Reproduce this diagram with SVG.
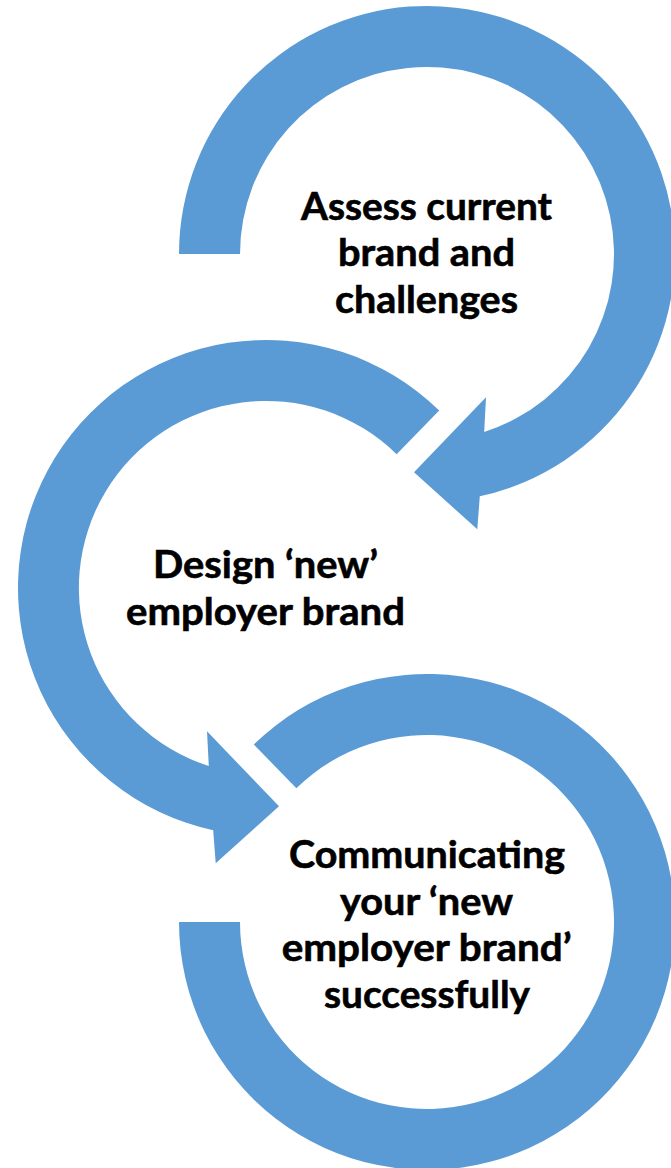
<svg xmlns="http://www.w3.org/2000/svg" width="671" height="1168" viewBox="0 0 671 1168">
  <style>
    .ring { fill: #5B9BD5; stroke: none; }
    .label { font-family: Lato, "Open Sans", "Liberation Sans", sans-serif; font-weight: 700; font-size: 38.5px; fill: #000000; stroke: #000000; stroke-width: 0.6px; text-anchor: middle; }
  </style>
  <rect x="0" y="0" width="671" height="1168" fill="#ffffff"/>

  <!-- circular arrow segments: each ring carries the flow to the next step -->
  <g id="connectors">
    <!-- step 1 ring: starts at left, runs clockwise, head points into step 2 -->
    <path id="arrow-1" class="ring" d="M179,254 A248,248 0 1 1 479.8,496.3 L477.3,529.3 L414,472.3 L486,397.3 L484.2,432 A187,187 0 1 0 240,254 Z"/>
    <!-- step 2 ring: starts upper right, runs counter-clockwise, head points into step 3 -->
    <path id="arrow-2" class="ring" d="M439.2,410.5 A248,248 0 1 0 213.2,830.3 L215.7,863.3 L279,806.3 L207,731.3 L208.8,766 A187,187 0 1 1 396.6,454.2 Z"/>
    <!-- step 3 ring: starts upper left, runs clockwise, ends flat at left -->
    <path id="arrow-3" class="ring" d="M253.8,744.5 A248,248 0 1 1 179,922 L240,922 A187,187 0 1 0 296.4,788.2 Z"/>
  </g>

  <g id="step-assess">
    <text class="label" x="426.5" y="219.5" textLength="251" lengthAdjust="spacingAndGlyphs">Assess current</text>
    <text class="label" x="426.5" y="266" textLength="177" lengthAdjust="spacingAndGlyphs">brand and</text>
    <text class="label" x="426.5" y="312.5" textLength="183" lengthAdjust="spacingAndGlyphs">challenges</text>
  </g>

  <g id="step-design">
    <text class="label" x="265.5" y="578" textLength="225" lengthAdjust="spacingAndGlyphs">Design ‘new’</text>
    <text class="label" x="265.5" y="624.8" textLength="279" lengthAdjust="spacingAndGlyphs">employer brand</text>
  </g>

  <g id="step-communicate">
    <text class="label" x="427" y="868" textLength="276" lengthAdjust="spacingAndGlyphs">Communicating</text>
    <text class="label" x="426.5" y="914.7" textLength="173" lengthAdjust="spacingAndGlyphs">your ‘new</text>
    <text class="label" x="426.7" y="961.3" textLength="290" lengthAdjust="spacingAndGlyphs">employer brand’</text>
    <text class="label" x="427" y="1008" textLength="206" lengthAdjust="spacingAndGlyphs">successfully</text>
  </g>
</svg>
